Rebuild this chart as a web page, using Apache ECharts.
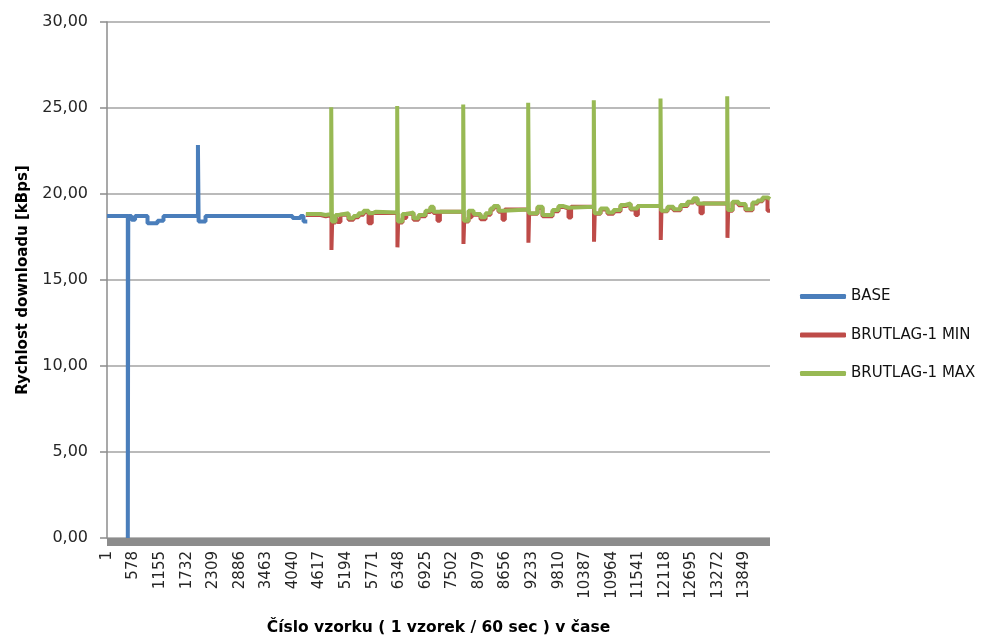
<!DOCTYPE html>
<html>
<head>
<meta charset="utf-8">
<script src="https://cdn.jsdelivr.net/npm/echarts@6/dist/echarts.min.js"></script>
<style>
html,body{margin:0;padding:0;background:#fff;}
#chart{width:997px;height:639px;}
</style>
</head>
<body>
<div id="chart"></div>
<script>
// x values are sample index minus 1 (sample 1 -> 0); labels add 1 back
const xTickStep = 577;
const xMax = 14400;
const yTicks = [0, 5, 10, 15, 20, 25, 30];

const seriesNames = ['BASE', 'BRUTLAG-1 MIN', 'BRUTLAG-1 MAX'];

const baseX = [0, 452, 462, 532, 610, 880, 1097, 1227, 1975, 1990, 2140, 4029, 4203, 4268, 4350];
const baseY = [18.72, 0, 18.72, 18.5, 18.72, 18.3, 18.45, 18.72, 22.85, 18.4, 18.72, 18.6, 18.72, 18.4, 18.4];

const minX = [4320, 4640, 4750, 4875, 4890, 4963, 5006, 5071, 5246, 5354, 5463, 5572, 5681, 5750,
  6308, 6323, 6418, 6500, 6657, 6766, 6918, 7026, 7091, 7178, 7230,
  7742, 7757, 7852, 7920, 7961, 8113, 8222, 8330, 8396, 8504, 8591, 8640,
  9153, 9168, 9351, 9459, 9677, 9807, 9915, 10024, 10080,
  10578, 10593, 10719, 10871, 11001, 11153, 11262, 11371, 11480, 11530,
  12027, 12042, 12174, 12304, 12456, 12608, 12738, 12825, 12890, 12940,
  13476, 13491, 13586, 13716, 13868, 14020, 14129, 14238, 14346, 14400];
const minY = [18.78, 18.7, 18.78, 16.75, 18.35, 18.7, 18.37, 18.8, 18.5, 18.65, 18.8, 18.95, 18.3, 18.9,
  16.9, 18.35, 18.6, 18.85, 18.5, 18.7, 18.95, 19.2, 18.9, 18.45, 18.97,
  17.1, 18.4, 18.65, 18.95, 18.8, 18.53, 18.8, 19.1, 19.25, 18.97, 18.5, 19.1,
  17.17, 18.85, 19.2, 18.7, 19.0, 19.25, 19.15, 18.64, 19.26,
  17.23, 18.85, 19.1, 18.85, 19.0, 19.3, 19.4, 19.1, 18.78, 19.3,
  17.33, 19.0, 19.2, 19.05, 19.3, 19.5, 19.7, 19.4, 18.88, 19.45,
  17.45, 19.03, 19.5, 19.35, 19.05, 19.45, 19.58, 19.75, 19.03, 19.03];

const maxX = [4320, 4640, 4750,
  4870, 4885, 4963, 5028, 5246, 5354, 5463, 5572, 5681, 5768, 5833,
  6303, 6318, 6418, 6527, 6657, 6766, 6918, 7026, 7091,
  7737, 7752, 7852, 7961, 8113, 8222, 8330, 8396, 8504, 8613,
  9148, 9163, 9351, 9459, 9677, 9807, 9915, 10024,
  10573, 10588, 10719, 10871, 11001, 11153, 11262, 11371, 11523,
  12022, 12037, 12174, 12304, 12456, 12608, 12738, 12825,
  13471, 13486, 13586, 13716, 13868, 14020, 14129, 14238, 14350, 14400];
const maxY = [18.84, 18.78, 18.84,
  25.05, 18.4, 18.78, 18.88, 18.59, 18.72, 18.88, 19.03, 18.88, 18.97, 18.93,
  25.12, 18.4, 18.84, 18.93, 18.59, 18.78, 19.03, 19.26, 18.97,
  25.2, 18.45, 19.03, 18.84, 18.65, 18.88, 19.16, 19.3, 19.03, 19.1,
  25.3, 18.88, 19.26, 18.78, 19.07, 19.3, 19.2, 19.26,
  25.45, 18.88, 19.16, 18.92, 19.07, 19.36, 19.45, 19.16, 19.3,
  25.55, 19.03, 19.26, 19.12, 19.36, 19.55, 19.75, 19.45,
  25.68, 19.07, 19.55, 19.42, 19.12, 19.5, 19.62, 19.8, 19.7, 19.7];

const colors = ['#4A7EBB', '#BE4B48', '#98B954'];

function pairs(xs, ys) { return xs.map((x, i) => [x, ys[i]]); }

const chart = echarts.init(document.getElementById('chart'), null, {renderer: 'canvas'});
const font = 'DejaVu Sans';

chart.setOption({
  animation: false,
  backgroundColor: '#ffffff',
  grid: {left: 107, right: 227, top: 22, bottom: 101, containLabel: false, outerBoundsMode: 'none'},
  legend: {
    orient: 'vertical',
    left: 800,
    top: 289,
    padding: 0,
    itemWidth: 46,
    itemHeight: 5,
    itemGap: 23.5,
    icon: 'roundRect',
    data: seriesNames,
    textStyle: {fontFamily: font, fontSize: 15, color: '#111'}
  },
  xAxis: {
    type: 'value',
    min: 0,
    max: xMax,
    interval: xTickStep,
    offset: 4,
    name: 'Číslo vzorku ( 1 vzorek / 60 sec ) v čase',
    nameLocation: 'middle',
    nameGap: 78,
    nameTextStyle: {fontFamily: font, fontSize: 15.5, fontWeight: 'bold', color: '#000'},
    axisLine: {show: true, onZero: false, lineStyle: {color: '#8c8c8c', width: 8, cap: 'butt'}},
    axisTick: {show: false},
    splitLine: {show: false},
    axisLabel: {
      rotate: 90,
      margin: 9,
      showMaxLabel: false,
      fontFamily: font, fontSize: 15, color: '#262626',
      formatter: v => String(v + 1)
    }
  },
  yAxis: {
    type: 'value',
    min: yTicks[0],
    max: yTicks[yTicks.length - 1],
    interval: 5,
    name: 'Rychlost downloadu [kBps]',
    nameLocation: 'middle',
    nameGap: 76,
    nameRotate: 90,
    nameTextStyle: {fontFamily: font, fontSize: 15, fontWeight: 'bold', color: '#000'},
    axisLine: {show: true, lineStyle: {color: '#8c8c8c', width: 1.5}},
    axisTick: {show: true, inside: false, length: 7, lineStyle: {color: '#8c8c8c', width: 1.5}},
    splitLine: {show: true, lineStyle: {color: '#a3a3a3', width: 1.5}},
    axisLabel: {
      margin: 19,
      fontFamily: font, fontSize: 16, color: '#262626',
      formatter: v => v.toFixed(2).replace('.', ',')
    }
  },
  series: [
    {name: seriesNames[0], type: 'line', step: 'end', showSymbol: false, symbol: 'none',
     data: pairs(baseX, baseY), lineStyle: {color: colors[0], width: 4}, itemStyle: {color: colors[0]}},
    {name: seriesNames[1], type: 'line', step: 'end', showSymbol: false, symbol: 'none',
     data: pairs(minX, minY), lineStyle: {color: colors[1], width: 4}, itemStyle: {color: colors[1]}},
    {name: seriesNames[2], type: 'line', step: 'end', showSymbol: false, symbol: 'none',
     data: pairs(maxX, maxY), lineStyle: {color: colors[2], width: 4}, itemStyle: {color: colors[2]}}
  ]
});
</script>
</body>
</html>
